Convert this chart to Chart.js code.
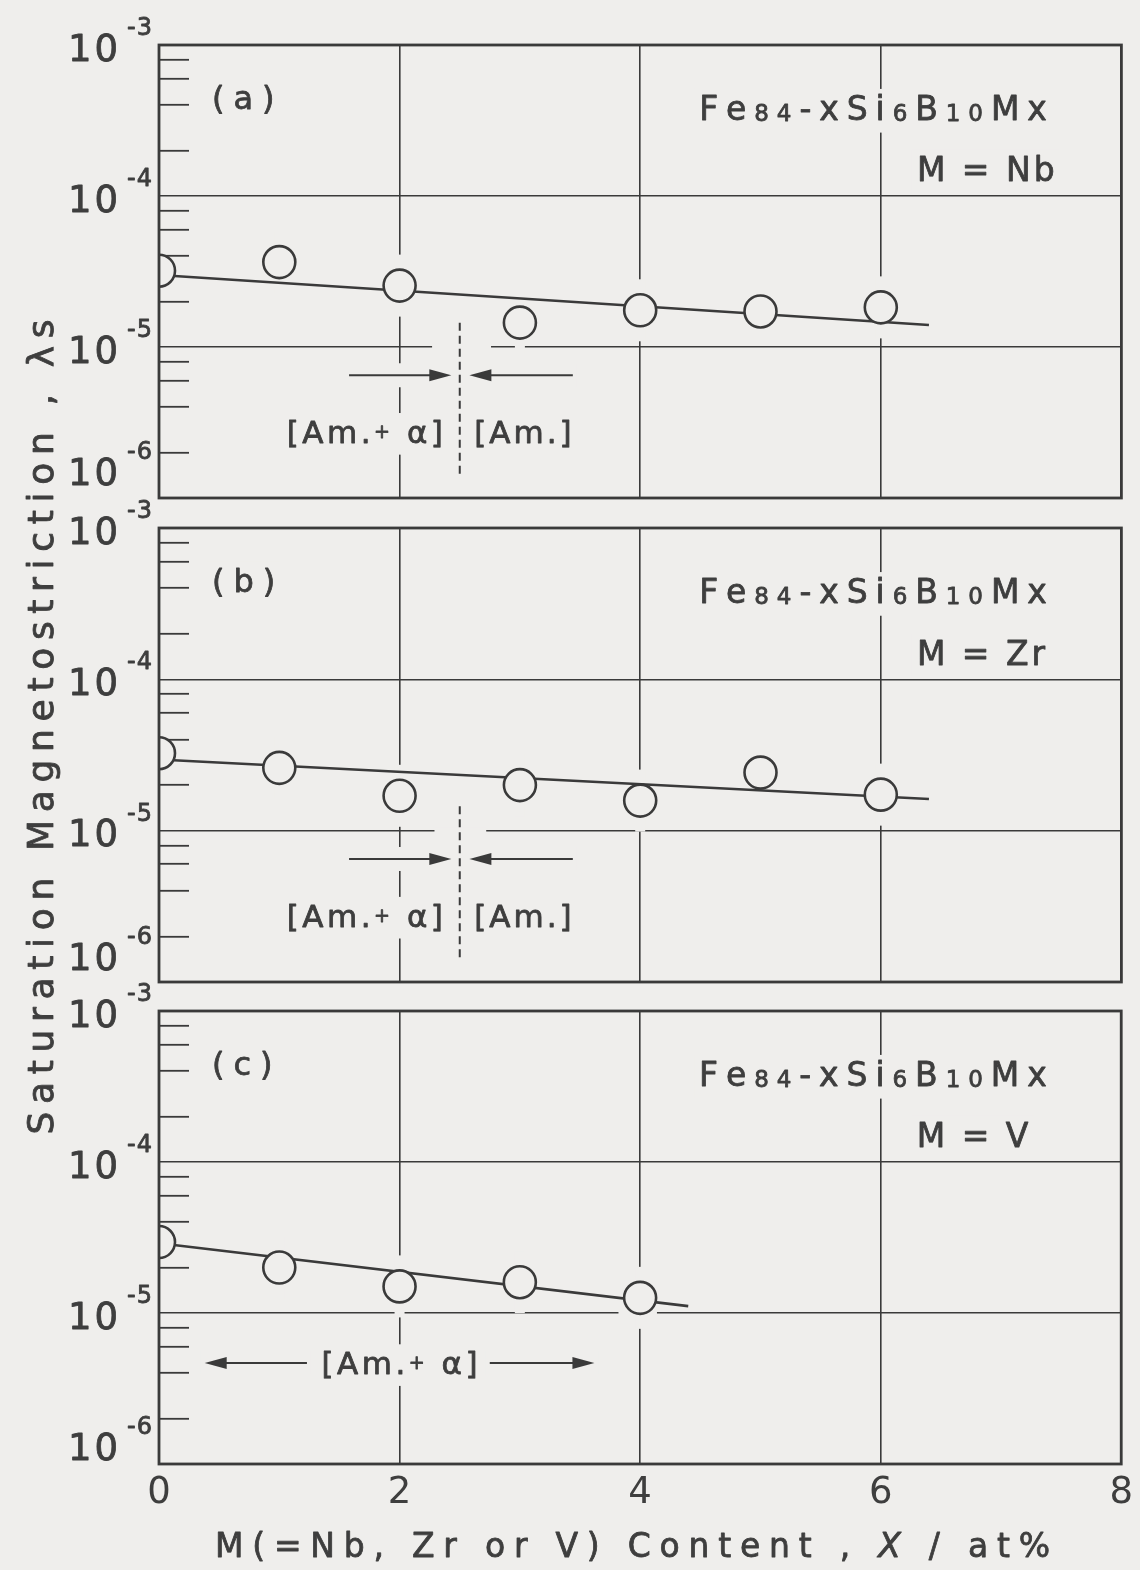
<!DOCTYPE html>
<html lang="en">
<head>
<meta charset="utf-8">
<title>Saturation magnetostriction of Fe84-xSi6B10Mx</title>
<script src="https://cdn.jsdelivr.net/npm/chart.js@4.4.1/dist/chart.umd.min.js"></script>
<style>
  html, body { margin: 0; padding: 0; background: #efeeec; }
  #figure { position: relative; width: 1140px; height: 1570px; overflow: hidden; }
  #figure canvas { position: absolute; left: 0; top: 0; }
</style>
</head>
<body>
<div id="figure">
  <canvas id="panelA" width="1140" height="1570"></canvas>
  <canvas id="panelB" width="1140" height="1570"></canvas>
  <canvas id="panelC" width="1140" height="1570"></canvas>
</div>
<script>
// ---- measured values: content x (at%) and saturation magnetostriction ----
const contentNb = [0, 1, 2, 3, 4, 5, 6];
const lambdaNb  = [3.2e-5, 3.65e-5, 2.55e-5, 1.45e-5, 1.75e-5, 1.72e-5, 1.83e-5];
const trendNbX  = [0, 6.4];
const trendNbY  = [3.0e-5, 1.4e-5];

const contentZr = [0, 1, 2, 3, 4, 5, 6];
const lambdaZr  = [3.25e-5, 2.6e-5, 1.7e-5, 2.0e-5, 1.58e-5, 2.42e-5, 1.73e-5];
const trendZrX  = [0, 6.4];
const trendZrY  = [2.95e-5, 1.62e-5];

const contentV  = [0, 1, 2, 3, 4];
const lambdaV   = [2.95e-5, 2.0e-5, 1.5e-5, 1.6e-5, 1.26e-5];
const trendVX   = [0, 4.4];
const trendVY   = [2.9e-5, 1.11e-5];

// ---- axes ----
const xTickValues     = [0, 2, 4, 6, 8];
const decadeExponents = [-6, -5, -4, -3];
const minorMantissas  = [2, 4, 6, 8];
const panelLabels     = ['(a)', '(b)', '(c)'];
const elementLabels   = ['M = Nb', 'M = Zr', 'M = V'];
const phaseBoundaryX  = 2.5;

// ---- page geometry & style ----
const PAGE_W = 1140, PAGE_H = 1570;
const PLOT_LEFT = 159, PLOT_RIGHT = 1123;
const XAXIS_H = 80;
const PAPER = '#efeeec';
const INK = '#3a3a3a';
const TEXT_INK = '#3e3e3e';
const FAMILY = '"DejaVu Sans", "Liberation Sans", sans-serif';
const TRANSPARENT = 'rgba(0,0,0,0)';

const yTickValues = [];
decadeExponents.forEach(e => {
  yTickValues.push(Math.pow(10, e));
  if (e < decadeExponents[decadeExponents.length - 1]) {
    minorMantissas.forEach(m => yTickValues.push(m * Math.pow(10, e)));
  }
});
const isDecade = v => Math.abs(Math.log10(v) - Math.round(Math.log10(v))) < 1e-6;

const panels = [
  { id: 'panelA', top: 45, bottom: 498, lowLift: 27,
    x: contentNb, y: lambdaNb, tx: trendNbX, ty: trendNbY,
    label: panelLabels[0], element: elementLabels[0], phase: 'boundary',
    gaps: [{ y: 1e-5, x0: 2.27, x1: 2.76 }] },
  { id: 'panelB', top: 528, bottom: 982, lowLift: 26,
    x: contentZr, y: lambdaZr, tx: trendZrX, ty: trendZrY,
    label: panelLabels[1], element: elementLabels[1], phase: 'boundary',
    gaps: [{ y: 1e-5, x0: 2.29, x1: 2.72 }], yTitle: true },
  { id: 'panelC', top: 1011, bottom: 1464, lowLift: 18,
    x: contentV, y: lambdaV, tx: trendVX, ty: trendVY,
    label: panelLabels[2], element: elementLabels[2], phase: 'span',
    gaps: [{ y: 1e-5, x0: 3.82, x1: 4.14 }], xAxis: true }
];

// ---- text runs (mixed sizes, sub/superscripts, letter spacing) ----
function fontFor(run) { return (run.italic ? 'italic ' : '') + run.size + 'px ' + FAMILY; }
function layoutRuns(ctx, item) {
  const glyphs = [];
  item.runs.forEach(run => {
    ctx.font = fontFor(run);
    for (const ch of run.t) glyphs.push({ ch, run, w: ctx.measureText(ch).width });
  });
  const natural = glyphs.reduce((s, g) => s + g.w, 0);
  let spacing = item.spacing || 0;
  if (item.width) spacing = (item.width - natural) / Math.max(1, glyphs.length - 1);
  const total = natural + spacing * (glyphs.length - 1);
  const x0 = item.align === 'center' ? item.x - total / 2 : item.align === 'right' ? item.x - total : item.x;
  const maxSize = Math.max(...item.runs.map(r => r.size));
  return { glyphs, spacing, x0, x1: x0 + total, top: item.base - 0.8 * maxSize, bottom: item.base + 0.22 * maxSize };
}
function drawRuns(ctx, item) {
  const L = layoutRuns(ctx, item);
  ctx.save();
  ctx.fillStyle = TEXT_INK;
  ctx.strokeStyle = TEXT_INK;
  ctx.lineWidth = 0.8;
  ctx.lineJoin = 'round';
  ctx.textBaseline = 'alphabetic';
  ctx.textAlign = 'left';
  let x = L.x0;
  L.glyphs.forEach(g => {
    ctx.font = fontFor(g.run);
    const gy = item.base + (g.run.dy || 0);
    ctx.fillText(g.ch, x, gy);
    ctx.strokeText(g.ch, x, gy);
    x += g.w + L.spacing;
  });
  ctx.restore();
  return L;
}
const baseFor = (center, size) => center + 0.36 * size;

function arrow(ctx, x0, y, x1) {
  const dir = Math.sign(x1 - x0), head = 22, half = 6;
  ctx.beginPath();
  ctx.moveTo(x0, y);
  ctx.lineTo(x1 - dir * head * 0.6, y);
  ctx.stroke();
  ctx.beginPath();
  ctx.moveTo(x1, y);
  ctx.lineTo(x1 - dir * head, y - half);
  ctx.lineTo(x1 - dir * head, y + half);
  ctx.closePath();
  ctx.fill();
}

// annotations inside a panel, positioned through the panel's scales
function panelAnnotations(chart, def) {
  const X = v => chart.scales.x.getPixelForValue(v);
  const Y = v => chart.scales.y.getPixelForValue(v);
  const texts = [];
  const arrows = [];
  let dashed = null;
  texts.push({ runs: [{ t: def.label, size: 32 }], x: X(0.44), base: baseFor(Y(4.5e-4), 32), align: 'left', spacing: 9 });
  texts.push({
    runs: [{ t: 'Fe', size: 33 }, { t: '84', size: 23, dy: 1 }, { t: '-x', size: 33 }, { t: 'Si', size: 33 },
           { t: '6', size: 23, dy: 1 }, { t: 'B', size: 33 }, { t: '10', size: 23, dy: 1 }, { t: 'Mx', size: 33 }],
    x: X(4.49), base: baseFor(Y(3.8e-4), 33), align: 'left', width: X(7.38) - X(4.49)
  });
  texts.push({ runs: [{ t: def.element, size: 33 }], x: X(6.3), base: baseFor(Y(1.5e-4), 33), align: 'left', spacing: 3 });
  const amAlpha = [{ t: '[Am.', size: 31 }, { t: '+', size: 19, dy: -5 }, { t: ' α]', size: 31 }];
  if (def.phase === 'boundary') {
    texts.push({ runs: amAlpha, x: X(2.36), base: baseFor(Y(2.75e-6), 31), align: 'right', spacing: 3.5 });
    texts.push({ runs: [{ t: '[Am.]', size: 31 }], x: X(2.62), base: baseFor(Y(2.75e-6), 31), align: 'left', spacing: 3 });
    const ay = Y(6.5e-6);
    arrows.push({ x0: X(1.58), x1: X(2.43), y: ay });
    arrows.push({ x0: X(3.44), x1: X(2.58), y: ay });
    dashed = { x: X(phaseBoundaryX), y0: Y(1.45e-5), y1: Y(1.35e-6) };
  } else {
    const ay = Y(4.67e-6);
    texts.push({ runs: amAlpha, x: X(2.0), base: baseFor(ay, 31), align: 'center', spacing: 3.5 });
    arrows.push({ x0: X(1.23), x1: X(0.38), y: ay });
    arrows.push({ x0: X(2.75), x1: X(3.62), y: ay });
  }
  return { texts, arrows, dashed };
}

function panelPlugin(def) {
  return {
    id: 'panelDecor_' + def.id,
    beforeDatasetsDraw(chart) {
      // open the grid where symbols, labels and arrows sit
      const { ctx, scales: { x, y } } = chart;
      ctx.save();
      ctx.fillStyle = PAPER;
      def.x.forEach((xv, i) => {
        if (xv <= 0) return;
        const px = x.getPixelForValue(xv), py = y.getPixelForValue(def.y[i]);
        ctx.fillRect(px - 5, py - 31, 10, 62);
      });
      def.gaps.forEach(g => {
        const py = y.getPixelForValue(g.y), a = x.getPixelForValue(g.x0), b = x.getPixelForValue(g.x1);
        ctx.fillRect(a, py - 3, b - a, 6);
      });
      const ann = panelAnnotations(chart, def);
      ann.texts.forEach(t => {
        const L = layoutRuns(ctx, t);
        ctx.fillRect(L.x0 - 5, L.top - 5, L.x1 - L.x0 + 10, L.bottom - L.top + 10);
      });
      ann.arrows.forEach(a => {
        ctx.fillRect(Math.min(a.x0, a.x1) - 4, a.y - 12, Math.abs(a.x1 - a.x0) + 8, 24);
      });
      ctx.restore();
    },
    afterDatasetsDraw(chart) {
      const { ctx, chartArea: a, scales: { y } } = chart;
      ctx.save();
      // frame
      ctx.strokeStyle = INK;
      ctx.lineWidth = 2.8;
      ctx.strokeRect(a.left, a.top, a.right - a.left, a.bottom - a.top);

      // decade labels 10^n
      decadeExponents.forEach((e, i) => {
        const cy = y.getPixelForValue(Math.pow(10, e)) + (i === 0 ? -def.lowLift : 2);
        drawRuns(ctx, { runs: [{ t: '10', size: 37 }], x: a.left - 41, base: cy + 13.5, align: 'right', spacing: 3 });
        drawRuns(ctx, { runs: [{ t: String(e), size: 24 }], x: a.left - 32, base: cy - 12, align: 'left', spacing: 1 });
      });

      const ann = panelAnnotations(chart, def);
      ann.texts.forEach(t => drawRuns(ctx, t));
      ctx.strokeStyle = INK;
      ctx.fillStyle = INK;
      ctx.lineWidth = 2;
      ann.arrows.forEach(ar => arrow(ctx, ar.x0, ar.y, ar.x1));
      if (ann.dashed) {
        ctx.setLineDash([8, 5]);
        ctx.beginPath();
        ctx.moveTo(ann.dashed.x, ann.dashed.y0);
        ctx.lineTo(ann.dashed.x, ann.dashed.y1);
        ctx.stroke();
        ctx.setLineDash([]);
      }

      if (def.xAxis) {
        drawRuns(ctx, {
          runs: [{ t: 'M(=Nb, Zr or V) Content , ', size: 33 }, { t: 'X', size: 33, italic: true }, { t: ' / at%', size: 33 }],
          x: a.left + 56, base: 1557, align: 'left', width: 835
        });
      }
      if (def.yTitle) {
        ctx.translate(40, 727);
        ctx.rotate(-Math.PI / 2);
        drawRuns(ctx, { runs: [{ t: 'Saturation Magnetostriction , λs', size: 36 }], x: 0, base: 0.36 * 36, align: 'center', width: 815 });
      }
      ctx.restore();
    }
  };
}

Chart.defaults.font.family = FAMILY;

panels.forEach(def => {
  const points = def.x.map((v, i) => ({ x: v, y: def.y[i] }));
  const trend = def.tx.map((v, i) => ({ x: v, y: def.ty[i] }));
  const axisH = def.xAxis ? XAXIS_H : 0;
  new Chart(document.getElementById(def.id), {
    type: 'scatter',
    data: {
      datasets: [
        { data: points, showLine: false, pointRadius: 16, pointHoverRadius: 16, pointBorderWidth: 2.6,
          pointBorderColor: INK, pointBackgroundColor: PAPER, clip: 0, order: 0 },
        { data: trend, showLine: true, pointRadius: 0, pointHoverRadius: 0, borderWidth: 2.6,
          borderColor: INK, tension: 0, clip: 0, order: 1 }
      ]
    },
    options: {
      responsive: false,
      animation: false,
      events: [],
      layout: { padding: { left: PLOT_LEFT, right: PAGE_W - PLOT_RIGHT, top: def.top, bottom: PAGE_H - def.bottom - axisH } },
      plugins: { legend: { display: false }, tooltip: { enabled: false } },
      scales: {
        x: {
          type: 'linear', min: 0, max: 8,
          afterBuildTicks: s => { s.ticks = xTickValues.map(v => ({ value: v })); },
          afterFit: s => { s.height = axisH; },
          border: { display: false },
          grid: {
            drawTicks: false, lineWidth: 1.6,
            color: c => (c.tick && c.tick.value > 0 && c.tick.value < 8) ? INK : TRANSPARENT
          },
          ticks: { display: !!def.xAxis, color: TEXT_INK, font: { family: FAMILY, size: 37 }, padding: 7, maxRotation: 0, autoSkip: false }
        },
        y: {
          type: 'logarithmic', min: 1e-6, max: 1e-3,
          afterBuildTicks: s => { s.ticks = yTickValues.map(v => ({ value: v })); },
          afterFit: s => { s.width = 0; },
          border: { display: false },
          grid: {
            drawTicks: true, tickLength: -30, lineWidth: 1.6, tickWidth: 1.8,
            color: c => (c.tick && isDecade(c.tick.value) && c.tick.value > 1.5e-6 && c.tick.value < 0.9e-3) ? INK : TRANSPARENT,
            tickColor: c => (c.tick && !isDecade(c.tick.value)) ? INK : TRANSPARENT
          },
          ticks: { display: false }
        }
      }
    },
    plugins: [panelPlugin(def)]
  });
});
</script>
</body>
</html>
